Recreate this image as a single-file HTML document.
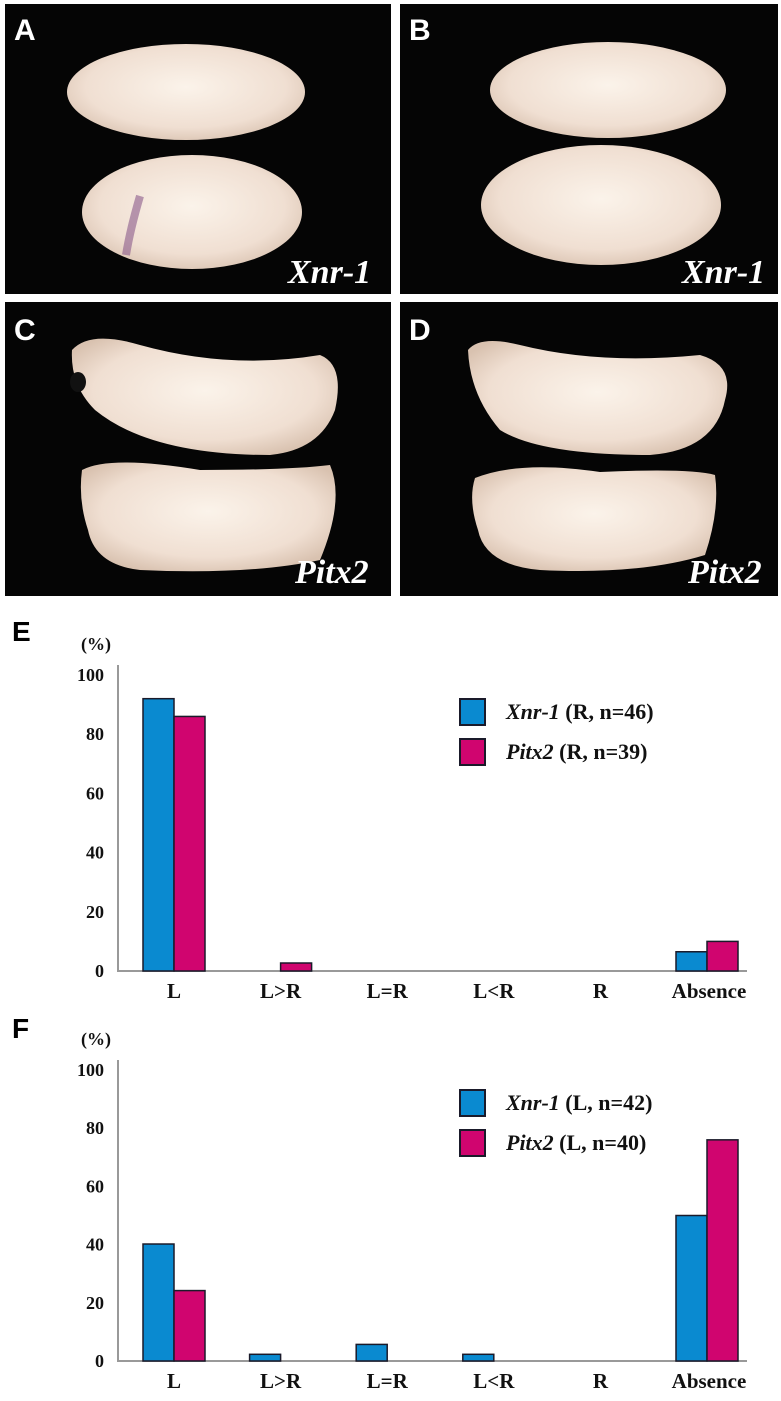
<!DOCTYPE html>
<html><head><meta charset="utf-8"><style>
html,body{margin:0;padding:0;background:#fff;width:781px;height:1401px;overflow:hidden}
svg{display:block}
.pl{font-family:"Liberation Sans",sans-serif;font-weight:bold;fill:#fff;font-size:30px}
.gl{font-family:"Liberation Serif",serif;font-style:italic;font-weight:bold;fill:#fff;font-size:34px}
.tk{font-family:"Liberation Serif",serif;font-weight:bold;font-size:18px;fill:#111}
.cl{font-family:"Liberation Serif",serif;font-weight:bold;font-size:21px;fill:#111}
.lg{font-family:"Liberation Serif",serif;font-weight:bold;font-size:22px;fill:#111}
.pn{font-family:"Liberation Sans",sans-serif;font-weight:bold;font-size:28px;fill:#000}
</style></head><body>
<svg id="fig" width="781" height="1401" viewBox="0 0 781 1401" xmlns="http://www.w3.org/2000/svg">
<defs>
<radialGradient id="emb" cx="50%" cy="45%" r="60%"><stop offset="0" stop-color="#fbf3ea"/><stop offset="0.7" stop-color="#f0dfd2"/><stop offset="1" stop-color="#d9c2b0"/></radialGradient>
</defs>
<g>
<rect x="5" y="4" width="386" height="290" fill="#050505"/>
<ellipse cx="186" cy="92" rx="119" ry="48" fill="url(#emb)"/>
<ellipse cx="192" cy="212" rx="110" ry="57" fill="url(#emb)"/>
<path d="M140 196 Q130 230 126 255" stroke="#8a5a8a" stroke-width="8" fill="none" opacity="0.6"/>
<text class="pl" x="14" y="40">A</text><text class="gl" x="288" y="283">Xnr-1</text>
</g>
<g>
<rect x="400" y="4" width="378" height="290" fill="#050505"/>
<ellipse cx="608" cy="90" rx="118" ry="48" fill="url(#emb)"/>
<ellipse cx="601" cy="205" rx="120" ry="60" fill="url(#emb)"/>
<text class="pl" x="409" y="40">B</text><text class="gl" x="682" y="283">Xnr-1</text>
</g>
<g>
<rect x="5" y="302" width="386" height="294" fill="#050505"/>
<path d="M72 350 Q90 330 140 345 Q230 370 320 355 Q345 365 335 410 Q320 450 270 455 Q150 455 95 410 Q70 385 72 350Z" fill="url(#emb)"/>
<path d="M82 470 Q110 455 200 470 Q290 470 330 465 Q345 500 320 560 Q250 575 140 570 Q95 565 88 530 Q78 500 82 470Z" fill="url(#emb)"/>
<ellipse cx="78" cy="382" rx="8" ry="10" fill="#111"/>
<text class="pl" x="14" y="340">C</text><text class="gl" x="295" y="583">Pitx2</text>
</g>
<g>
<rect x="400" y="302" width="378" height="294" fill="#050505"/>
<path d="M468 350 Q480 335 520 345 Q600 365 700 355 Q735 365 725 400 Q715 450 650 455 Q540 455 500 430 Q470 395 468 350Z" fill="url(#emb)"/>
<path d="M475 478 Q520 460 600 472 Q690 468 715 475 Q720 510 705 555 Q640 575 540 570 Q485 565 478 530 Q468 500 475 478Z" fill="url(#emb)"/>
<text class="pl" x="409" y="340">D</text><text class="gl" x="688" y="583">Pitx2</text>
</g>
<g id="chartE"></g>
<g id="chartF"></g>
</svg>
<script>
const categories = ["L","L>R","L=R","L<R","R","Absence"];
const yTicks = [0,20,40,60,80,100];
const eXnr = [92,0,0,0,0,6.5];
const ePitx = [86,2.7,0,0,0,10];
const fXnr = [40.2,2.3,5.7,2.3,0,50];
const fPitx = [24.2,0,0,0,0,76];
const eLegend = ["(R, n=46)","(R, n=39)"];
const fLegend = ["(L, n=42)","(L, n=40)"];
const ns="http://www.w3.org/2000/svg";
function mk(tag,attrs,parent){const e=document.createElementNS(ns,tag);for(const k in attrs)e.setAttribute(k,attrs[k]);parent.appendChild(e);return e;}
function drawChart(g,letter,top,y0,y100,xs,ps,legend,legY){
  const x=i=>174+i*106.6;
  const y=v=>y0-(y0-y100)*v/100;
  const t=mk('text',{class:'pn',x:12,y:top+28},g);t.textContent=letter;
  
  
  const pct=mk('text',{class:'tk',x:96,y:y100-25,'text-anchor':'middle'},g);pct.textContent='(%)';
  
  
  const ax=mk('path',{d:`M118 ${y100-10} V${y0} H747`,stroke:'#999',fill:'none','stroke-width':2},g);
  
  
  yTicks.forEach(v=>{const tt=mk('text',{class:'tk',x:104,y:y(v)+6,'text-anchor':'end'},g);tt.textContent=v;
    
    });
  categories.forEach((c,i)=>{
    const ct=mk('text',{class:'cl',x:x(i)+(i==5?2:0),y:y0+27,'text-anchor':'middle'},g);ct.textContent=c;
    
    
    if(xs[i]>0){const b=mk('rect',{x:x(i)-31,y:y(xs[i]),width:31,height:y0-y(xs[i]),fill:'#0a8ad0',stroke:'#1a1a2a','stroke-width':1.5},g);
      
      }
    if(ps[i]>0){const b=mk('rect',{x:x(i),y:y(ps[i]),width:31,height:y0-y(ps[i]),fill:'#d0056f',stroke:'#1a1a2a','stroke-width':1.5},g);
      
      }
  });
  [['#0a8ad0','Xnr-1',legend[0]],['#d0056f','Pitx2 ',legend[1]]].forEach((l,k)=>{
    const yy=legY+k*40;
    const r=mk('rect',{x:460,y:yy,width:25,height:26,fill:l[0],stroke:'#1a1a2a','stroke-width':2},g);
    
    
    const tx=mk('text',{class:'lg',x:506,y:yy+20},g);
    
    
    tx.setAttribute('xml:space','preserve');
    const a=mk('tspan',{'font-style':'italic'},tx);a.textContent=l[1];
    const b=mk('tspan',{},tx);b.textContent=' '+l[2];
  });
}
drawChart(document.getElementById('chartE'),'E',613,971,675,eXnr,ePitx,eLegend,699);
drawChart(document.getElementById('chartF'),'F',1010,1361,1070,fXnr,fPitx,fLegend,1090);
</script>
</body></html>
